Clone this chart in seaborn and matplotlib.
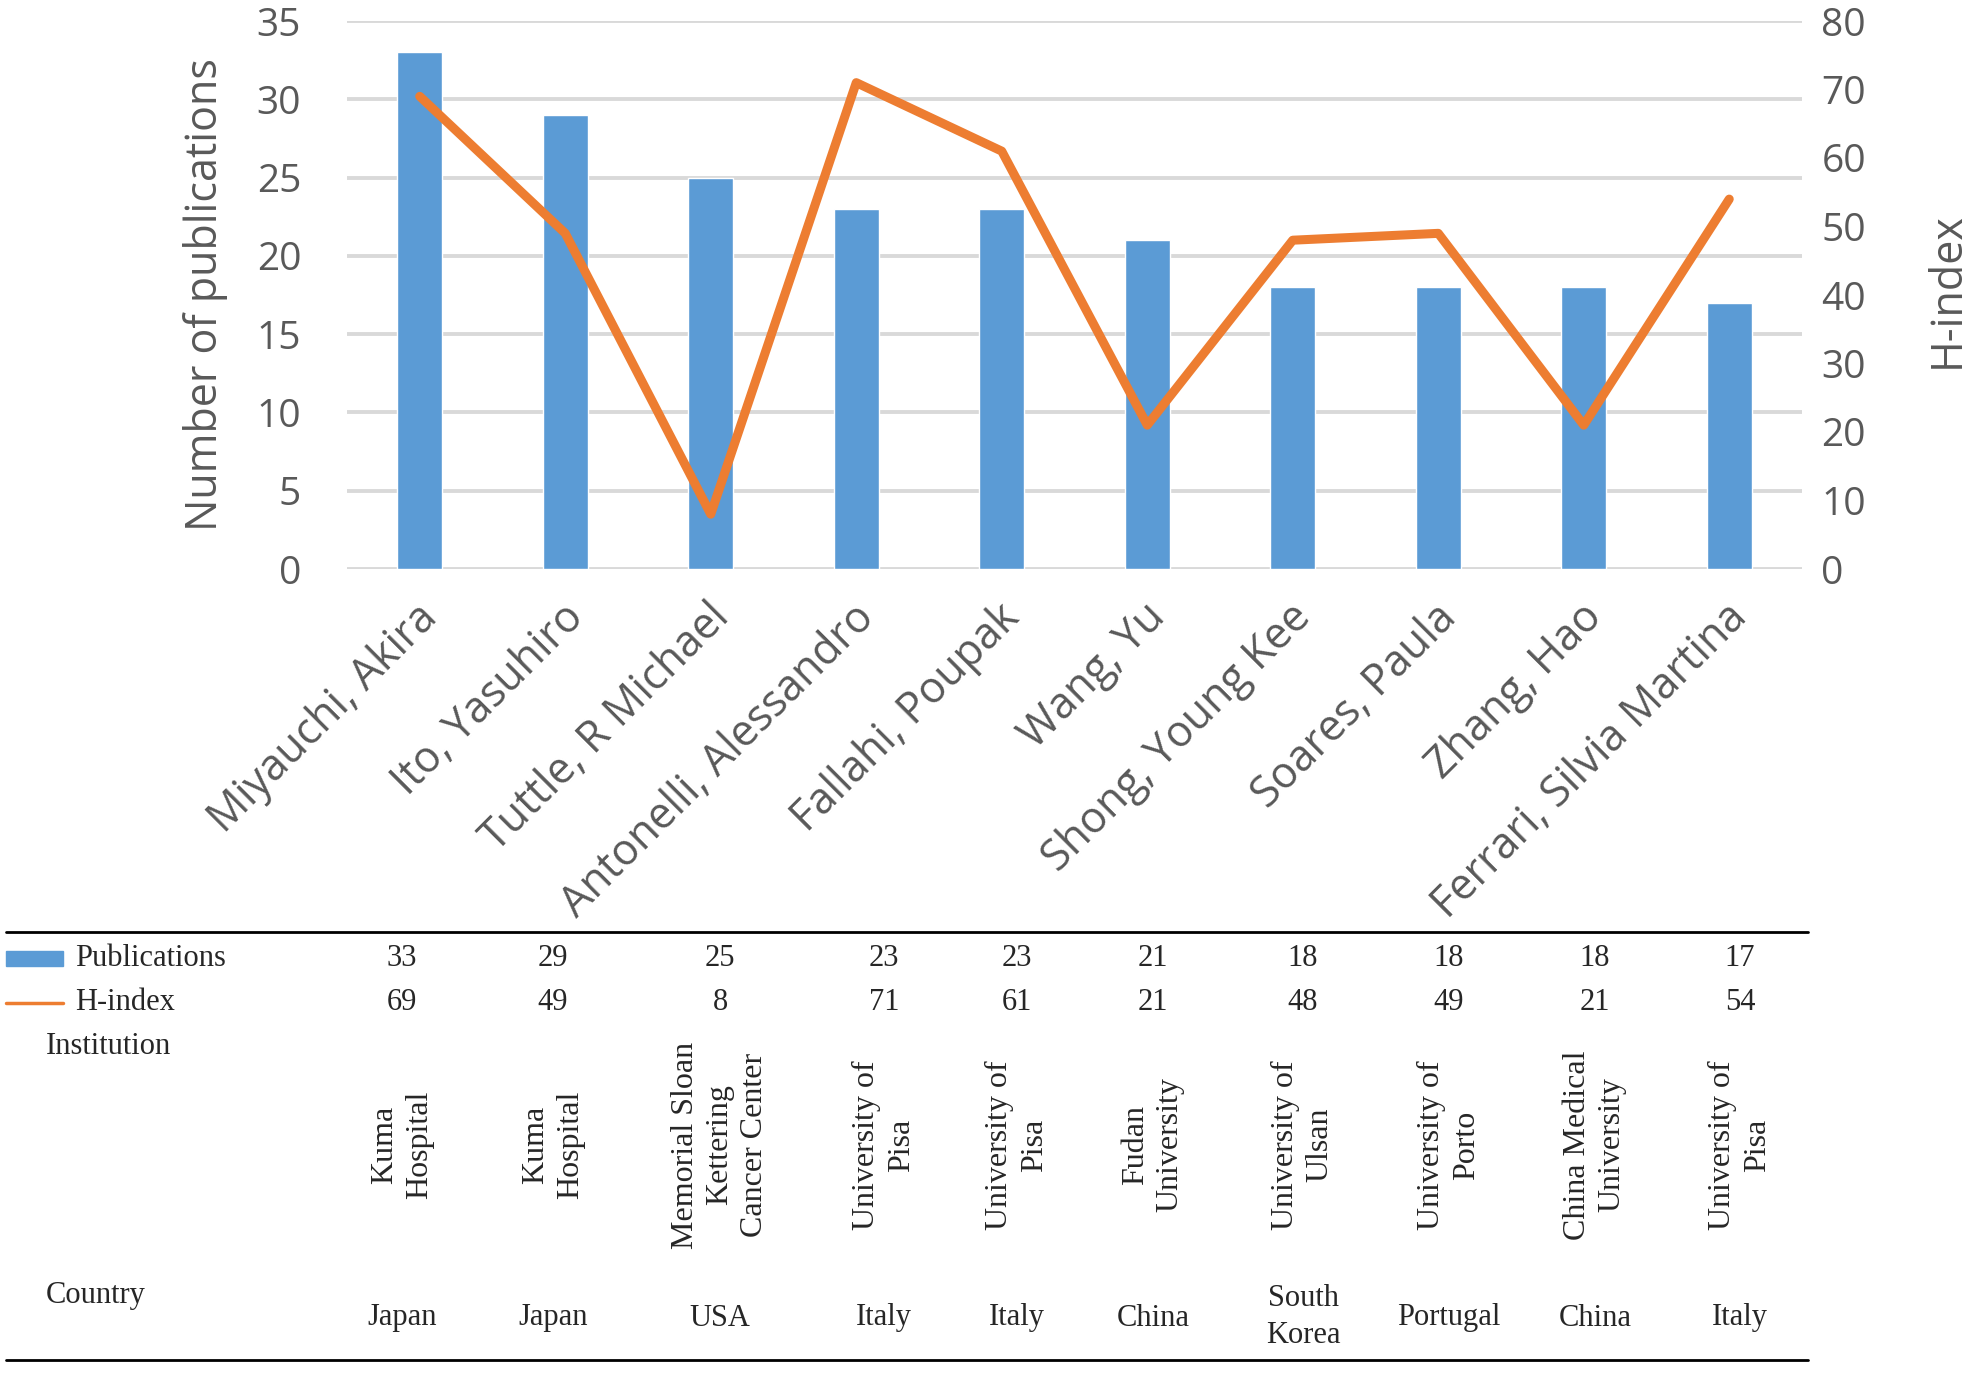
import numpy as np
import pandas as pd
import matplotlib
matplotlib.use("Agg")
import matplotlib.pyplot as plt
import seaborn as sns
from matplotlib.patches import Rectangle
from matplotlib.lines import Line2D
from matplotlib.transforms import ScaledTranslation

# --- data ------------------------------------------------------------------
authors = ["Miyauchi, Akira", "Ito, Yasuhiro", "Tuttle, R Michael",
           "Antonelli, Alessandro", "Fallahi, Poupak", "Wang, Yu",
           "Shong, Young Kee", "Soares, Paula", "Zhang, Hao",
           "Ferrari, Silvia Martina"]
publications = [33, 29, 25, 23, 23, 21, 18, 18, 18, 17]
h_index = [69, 49, 8, 71, 61, 21, 48, 49, 21, 54]
institutions = ["Kuma\nHospital", "Kuma\nHospital",
                "Memorial Sloan\nKettering\nCancer Center",
                "University of\nPisa", "University of\nPisa",
                "Fudan\nUniversity", "University of\nUlsan",
                "University of\nPorto", "China Medical\nUniversity",
                "University of\nPisa"]
countries = ["Japan", "Japan", "USA", "Italy", "Italy", "China",
             "South\nKorea", "Portugal", "China", "Italy"]
pub_ticks = list(range(0, 36, 5))
h_ticks = list(range(0, 81, 10))

BLUE = "#5B9BD5"
ORANGE = "#ED7D31"
GREY_TXT = "#595959"

W, H = 1969, 1377
sns.set_style("white")
plt.rcParams["font.family"] = ["Open Sans", "DejaVu Sans"]


def fx(x):
    return x / W


def fy(y):
    return 1 - y / H


fig = plt.figure(figsize=(W / 100, H / 100), dpi=100)
ax = fig.add_axes([fx(347), fy(569), (1802 - 347) / W, (569 - 21) / H])

df = pd.DataFrame({"author": authors, "pubs": publications, "h": h_index})
sns.barplot(data=df, x="author", y="pubs", color=BLUE, saturation=1,
            width=0.31, ax=ax, zorder=3)
ax.set_xlim(-0.5, len(authors) - 0.5)
ax.set_ylim(0, 35)
ax.set_yticks(pub_ticks)
ax.yaxis.grid(True, color="#D9D9D9", lw=2.8)
ax.set_axisbelow(True)
ax.set_xlabel("")
ax.set_ylabel("")
ax.tick_params(axis="y", length=0, pad=33, labelsize=28, labelcolor=GREY_TXT)
ax.tick_params(axis="x", length=0, pad=19, labelsize=31, labelcolor=GREY_TXT)
ax.set_xticks(range(len(authors)))
ax.set_xticklabels(authors, rotation=45, ha="right", va="top",
                   rotation_mode="anchor")
for lab in ax.get_xticklabels():
    lab.set_transform(lab.get_transform()
                      + ScaledTranslation(-0.04, 0, fig.dpi_scale_trans))

ax2 = ax.twinx()
sns.lineplot(x=np.arange(len(authors)), y=h_index, ax=ax2, color=ORANGE,
             lw=6.5, sort=False)
ax2.set_ylim(0, 80)
ax2.set_yticks(h_ticks)
ax2.tick_params(axis="y", length=0, pad=14, labelsize=28, labelcolor=GREY_TXT)
ax2.set_ylabel("")
for a in (ax, ax2):
    for s in a.spines.values():
        s.set_visible(False)

fig.text(fx(205), fy(295), "Number of publications", rotation=90,
         ha="center", va="center", fontsize=31, color=GREY_TXT)
fig.text(fx(1947), fy(290), "H-index", rotation=90,
         ha="center", va="center", fontsize=31, color=GREY_TXT)

# --- table under the chart --------------------------------------------------
serif = ["Liberation Serif", "DejaVu Serif"]
col_x = [402, 553, 720, 884, 1017, 1153, 1303, 1449, 1595, 1740]
tfs = 22

fig.add_artist(Line2D([fx(6), fx(1808)], [fy(932), fy(932)], color="black",
                      lw=2))
fig.add_artist(Line2D([fx(6), fx(1808)], [fy(1360), fy(1360)], color="black",
                      lw=2))
fig.add_artist(Rectangle((fx(6), fy(966)), fx(57), 15 / H, color=BLUE,
                         transform=fig.transFigure))
fig.add_artist(Line2D([fx(6), fx(63)], [fy(1003), fy(1003)], color=ORANGE,
                      lw=2.5))

fig.text(fx(75), fy(958), "Publications", ha="left", va="center",
         fontsize=tfs, family=serif)
fig.text(fx(75), fy(1003), "H-index", ha="left", va="center",
         fontsize=tfs, family=serif)
fig.text(fx(46), fy(1047), "Institution", ha="left", va="center",
         fontsize=tfs, family=serif)
fig.text(fx(46), fy(1295), "Country", ha="left", va="center",
         fontsize=tfs, family=serif)

for x, p, h, inst, c in zip(col_x, publications, h_index, institutions,
                            countries):
    fig.text(fx(x), fy(958), str(p), ha="center", va="center",
             fontsize=tfs, family=serif)
    fig.text(fx(x), fy(1003), str(h), ha="center", va="center",
             fontsize=tfs, family=serif)
    fig.text(fx(x), fy(1145), inst, rotation=90, ha="center", va="center",
             multialignment="center", linespacing=1.25, fontsize=23,
             family=serif)
    cy = 1317 if "\n" in c else 1318
    fig.text(fx(x), fy(cy), c, ha="center", va="center",
             multialignment="center", linespacing=1.4, fontsize=tfs,
             family=serif)

fig.savefig("out.png", dpi=100)
